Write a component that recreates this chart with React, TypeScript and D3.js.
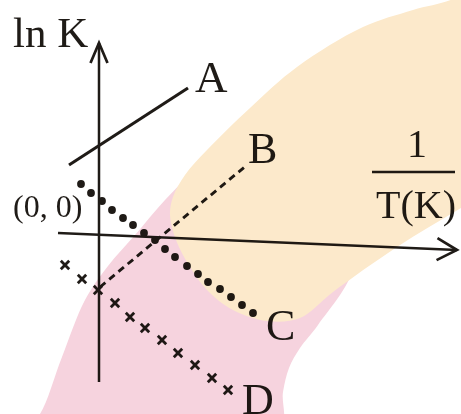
import React from "react";
import * as d3 from "d3";

const width = 461;
const height = 414;

// schematic units (1 unit = 10px), origin where the two axes cross
const yAxisEnds: [number, number][] = [[0, -14.8], [0, 19.1]];
const xAxisEnds: [number, number][] = [[-4.1, 0.1], [35.8, -1.6]];

const lineA: [number, number][] = [[-3, 6.9], [8.9, 14.6]];
const lineB: [number, number][] = [[0.1, -5.3], [14.8, 6.9]];

const pointsC: [number, number][] = [
  [-1.8, 5.0], [-0.8, 4.1], [0.3, 3.3], [1.3, 2.4], [2.4, 1.6], [3.4, 0.9],
  [4.5, 0.1], [5.6, -0.6], [6.6, -1.5], [7.6, -2.3], [8.8, -3.2], [9.9, -4.0],
  [10.9, -4.8], [12.1, -5.5], [13.2, -6.3], [14.3, -7.1], [15.4, -7.9],
];

const pointsD: [number, number][] = [
  [-3.4, -3.1], [-1.7, -4.5], [-0.1, -5.6], [1.6, -6.9], [3.1, -8.3], [4.6, -9.4],
  [6.3, -10.6], [7.9, -11.9], [9.6, -13.1], [11.3, -14.4], [12.9, -15.6],
];

const curveNames = ["A", "B", "C", "D"];
const yTitle = "ln K";
const xTitleTop = "1";
const xTitleBottom = "T(K)";
const originLabel = "(0, 0)";

// background highlight bands
const peachBand: [number, number][] = [
  [42, 27], [38, 25.5], [35.6, 23.6], [31.4, 22.4], [26.4, 20.7], [19.8, 16.7],
  [15.1, 12.6], [10.8, 8.4], [8.6, 5.9], [7.4, 3.7], [7.1, 1.9], [7.7, -0.6],
  [9.1, -3.3], [10.8, -5.6], [13.4, -7.6], [16.8, -8.7], [20.1, -8.4],
  [23.4, -5.8], [29.8, -1.3], [36.2, 2.6], [42, 6],
];
const pinkBand: [number, number][] = [
  [-7.4, -19.6], [-5.9, -18.0], [-3.7, -12.3], [-1.4, -6.6], [0.9, -3.2],
  [3.6, -0.1], [6.6, 3.4], [10.1, 6.9], [14.1, 10.4], [20.1, 13.4],
  [26.1, 8.4], [25.6, -3.1], [21.9, -9.1], [20.1, -11.4], [19.0, -13.4],
  [18.4, -15.8], [18.0, -19.6],
];

const ink = "#1f1b17";
const serif = "'Liberation Serif', 'Times New Roman', serif";

const App = () => {
  const x = d3.scaleLinear().domain([-9.9, 36.2]).range([0, width]);
  const y = d3.scaleLinear().domain([23.4, -18]).range([0, height]);

  const line = d3.line<[number, number]>().x(d => x(d[0])).y(d => y(d[1]));
  const blob = d3
    .line<[number, number]>()
    .x(d => x(d[0]))
    .y(d => y(d[1]))
    .curve(d3.curveCatmullRomClosed.alpha(0.5));

  // open chevron at the end of an axis
  const arrow = (ends: [number, number][], back: number, half: number) => {
    const [x0, y0] = [x(ends[0][0]), y(ends[0][1])];
    const [x1, y1] = [x(ends[1][0]), y(ends[1][1])];
    const len = Math.hypot(x1 - x0, y1 - y0);
    const ux = (x1 - x0) / len;
    const uy = (y1 - y0) / len;
    const bx = x1 - ux * back;
    const by = y1 - uy * back;
    return `M${bx - uy * half},${by + ux * half}L${x1},${y1}L${bx + uy * half},${by - ux * half}`;
  };

  const endA = lineA[1];
  const endB = lineB[1];
  const endC = pointsC[pointsC.length - 1];
  const endD = pointsD[pointsD.length - 1];

  return (
    <svg width={width} height={height} style={{ position: "absolute", left: 0, top: 0, background: "#fff" }}>
      <path d={blob(pinkBand) || ""} fill="#f6d3de" />
      <path d={blob(peachBand) || ""} fill="#fce9cb" />

      <g style={{ mixBlendMode: "multiply" }}>
        {/* axes */}
        <path d={line(yAxisEnds) || ""} stroke={ink} strokeWidth={2.5} fill="none" />
        <path d={line(xAxisEnds) || ""} stroke={ink} strokeWidth={2.5} fill="none" />
        <path d={arrow(yAxisEnds, 20, 8.5)} stroke={ink} strokeWidth={2.7} fill="none" strokeLinejoin="miter" />
        <path d={arrow(xAxisEnds, 20, 11)} stroke={ink} strokeWidth={2.7} fill="none" strokeLinejoin="miter" />

        {/* A: solid */}
        <path d={line(lineA) || ""} stroke={ink} strokeWidth={3.1} fill="none" />
        {/* B: dashed */}
        <path d={line(lineB) || ""} stroke={ink} strokeWidth={2.9} strokeDasharray="7 5" fill="none" />
        {/* C: dots */}
        {pointsC.map((d, i) => (
          <circle key={"c" + i} cx={x(d[0])} cy={y(d[1])} r={3.9} fill={ink} />
        ))}
        {/* D: crosses */}
        {pointsD.map((d, i) => {
          const cx = x(d[0]);
          const cy = y(d[1]);
          const s = 4.2;
          return (
            <path
              key={"d" + i}
              d={`M${cx - s},${cy - s}L${cx + s},${cy + s}M${cx - s},${cy + s}L${cx + s},${cy - s}`}
              stroke={ink}
              strokeWidth={2.8}
            />
          );
        })}

        <g fontFamily={serif} fill={ink}>
          <text x={x(endA[0]) + 7} y={y(endA[1]) + 4} fontSize={45}>{curveNames[0]}</text>
          <text x={x(endB[0]) + 1} y={y(endB[1]) - 2} fontSize={44}>{curveNames[1]}</text>
          <text x={x(endC[0]) + 13} y={y(endC[1]) + 27} fontSize={44}>{curveNames[2]}</text>
          <text x={x(endD[0]) + 14} y={y(endD[1]) + 24} fontSize={44}>{curveNames[3]}</text>

          <text x={x(-8.6)} y={y(18.7)} fontSize={43}>{yTitle}</text>
          <text x={x(-8.6)} y={y(1.7)} fontSize={32}>{originLabel}</text>
          <text x={x(31.8)} y={y(7.7)} fontSize={40} textAnchor="middle">{xTitleTop}</text>
          <line x1={x(27.3)} x2={x(35.6)} y1={y(6.2)} y2={y(6.2)} stroke={ink} strokeWidth={2.5} />
          <text x={x(31.7)} y={y(1.6)} fontSize={40} textAnchor="middle">{xTitleBottom}</text>
        </g>
      </g>
    </svg>
  );
};

export default App;
